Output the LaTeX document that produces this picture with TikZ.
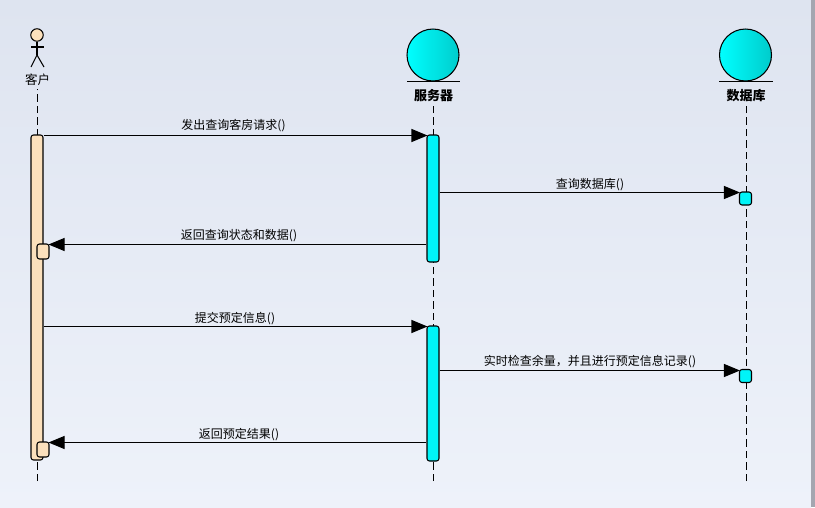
\documentclass[tikz,border=0pt]{standalone}
\usepackage{fontspec}
\setmainfont{Noto Sans CJK SC}
\usetikzlibrary{arrows.meta,calc,shadows}
\definecolor{skin}{HTML}{FBE0BC}
\definecolor{cyanbar}{HTML}{00F4F8}
\definecolor{bgtop}{HTML}{DEE4F0}
\definecolor{bgbot}{HTML}{EEF2FA}
\definecolor{edgegray}{HTML}{A4A6B0}
\tikzset{
  x=1pt,y=-1pt,
  lifeline/.style={draw=black,line width=1pt,dash pattern=on 7.5pt off 4pt},
  msg/.style={draw=black,line width=1.05pt,-{Triangle[length=16pt,width=13pt]},shorten >=-1pt},
  msglabel/.style={font=\fontsize{12}{13}\selectfont,anchor=base,inner sep=0pt,text=black},
  headlabel/.style={font=\fontsize{13}{14}\selectfont\bfseries,inner sep=0pt,anchor=base},
  barbase/.style={draw=black,line width=1.05pt,rounded corners=2.5pt,inner sep=0pt,minimum width=12pt},
  skinbar/.style={barbase,fill=skin},
  cyanactive/.style={barbase,fill=cyanbar},
  ball/.style={circle,draw=black,line width=1.05pt,minimum size=52pt,inner sep=0pt,left color=cyan,right color=cyan!80!black,shading angle=90},
  stick/.style={draw=black,line width=1.05pt},
}
\begin{document}
\begin{tikzpicture}
\useasboundingbox (0,0) rectangle (815,507);
\shade[top color=bgtop,bottom color=bgbot] (0,0) rectangle (811,507);
\fill[edgegray] (811,0) rectangle (815,507);

% actor
\node[circle,draw=black,line width=1.05pt,fill=skin,minimum size=12.5pt,inner sep=0pt] (head) at (37,35) {};
\coordinate (hip) at (37,55);
\coordinate (armL) at (31,47);
\coordinate (armR) at (44,47);
\coordinate (legL) at (31,67);
\coordinate (legR) at (44,67);
\draw[stick] (head.south) -- (hip);
\draw[stick] (armL) -- (armR);
\draw[stick] (legL) -- (hip) -- (legR);
\node[msglabel,font=\fontsize{12.5}{13}\selectfont] (client) at (37.5,84) {客户};

% server & db
\node[ball] (srv) at (433,55) {};
\coordinate (srvL) at (407,81.5);
\coordinate (srvR) at (460,81.5);
\draw[stick] (srvL) -- (srvR);
\node[headlabel] (srvlabel) at (433.5,100) {服务器};
\node[ball] (db) at (745.5,55) {};
\coordinate (dbL) at (719,81.5);
\coordinate (dbR) at (773,81.5);
\draw[stick] (dbL) -- (dbR);
\node[headlabel] (dblabel) at (746,100) {数据库};

% lifeline ends
\coordinate (cTop) at (37,89);
\coordinate (cEnd) at (37,481);
\coordinate (sTop) at (433.5,102);
\coordinate (sEnd) at (433.5,481);
\coordinate (dTop) at (746,102);
\coordinate (dEnd) at (746,481);
\draw[lifeline] (cEnd) -- (cTop);
\draw[lifeline] (sEnd) -- (sTop);
\draw[lifeline] (dEnd) -- (dTop);

% activations
\node[skinbar,minimum height=325pt] (cbar) at (37,297.5) {};
\node[cyanactive,minimum height=127pt] (sa) at (433,198.5) {};
\node[cyanactive,minimum height=135pt] (sb) at (433,393.5) {};
\node[cyanactive,minimum height=13pt] (da) at (745.5,198.5) {};
\node[cyanactive,minimum height=13pt] (db2) at (745.5,376) {};
\node[skinbar,minimum height=15pt] (ca) at (43,251.5) {};
\node[skinbar,minimum height=15pt] (cb) at (43,449.5) {};

% messages
\draw[msg] (cbar.east |- 0,135.5) -- (sa.west |- 0,135.5);
\draw[msg] (sa.east |- 0,192.5) -- (da.west |- 0,192.5);
\draw[msg] (sa.west |- 0,244.5) -- (ca.east |- 0,244.5);
\draw[msg] (cbar.east |- 0,326.5) -- (sb.west |- 0,326.5);
\draw[msg] (sb.east |- 0,370.5) -- (db2.west |- 0,370.5);
\draw[msg] (sb.west |- 0,442.5) -- (cb.east |- 0,442.5);

% labels
\node[msglabel] (m1) at (233.5,129.5) {发出查询客房请求()};
\node[msglabel] (m2) at (590,188.5) {查询数据库()};
\node[msglabel] (m3) at (239,239.5) {返回查询状态和数据()};
\node[msglabel] (m4) at (235,322) {提交预定信息()};
\node[msglabel] (m5) at (590,365.5) {实时检查余量，并且进行预定信息记录()};
\node[msglabel] (m6) at (239,438.5) {返回预定结果()};
\end{tikzpicture}
\end{document}
